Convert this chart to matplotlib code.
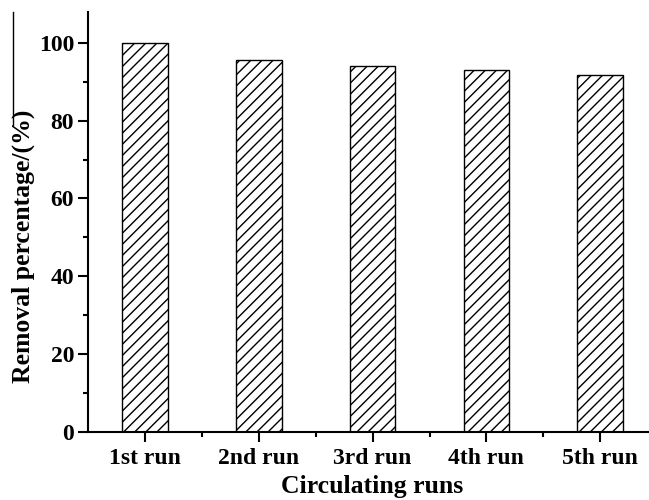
import matplotlib.pyplot as plt
from matplotlib.lines import Line2D
from matplotlib.ticker import MultipleLocator

runs = ['1st run', '2nd run', '3rd run', '4th run', '5th run']
removal = [99.9, 95.6, 94.0, 93.0, 91.9]

plt.rcParams['font.family'] = ['Liberation Serif', 'DejaVu Serif']
plt.rcParams['font.weight'] = 'bold'
plt.rcParams['hatch.linewidth'] = 1.0

fig = plt.figure(figsize=(6.49, 5.0), dpi=100)
ax = fig.add_axes([0.1356, 0.137, 0.877, 0.839])

x = list(range(len(runs)))
ax.bar(x, removal, width=0.4, color='white', edgecolor='black',
       linewidth=1.0, hatch='///')

ax.set_xlim(-0.5, 4.5)
ax.set_ylim(0, 108)
ax.set_xticks(x)
ax.set_xticklabels(runs)
# minor ticks between the categories
ax.set_xticks([i + 0.5 for i in x[:-1]], minor=True)
ax.yaxis.set_major_locator(MultipleLocator(20))
ax.yaxis.set_minor_locator(MultipleLocator(10))

for side in ['top', 'right']:
    ax.spines[side].set_visible(False)
for side in ['left', 'bottom']:
    ax.spines[side].set_linewidth(1.5)

ax.tick_params(which='major', length=7, width=1.5, labelsize=17, pad=3)
ax.tick_params(axis='x', which='major', pad=5)
ax.tick_params(which='minor', length=3.5, width=1.5)
for lab in ax.get_xticklabels() + ax.get_yticklabels():
    lab.set_fontweight('bold')

ax.set_xlabel('Circulating runs', fontsize=18.5, fontweight='bold', labelpad=4)
ax.set_ylabel('Removal percentage/(%)', fontsize=18.5, fontweight='bold')
ax.yaxis.set_label_coords(-0.094, 0.442)

# thin stray line along the left edge
fig.add_artist(Line2D([13 / 649, 13 / 649], [1 - 12 / 500, 1 - 125 / 500],
                      transform=fig.transFigure, color='black', linewidth=1.0))

fig.savefig('out.png', dpi=100)
